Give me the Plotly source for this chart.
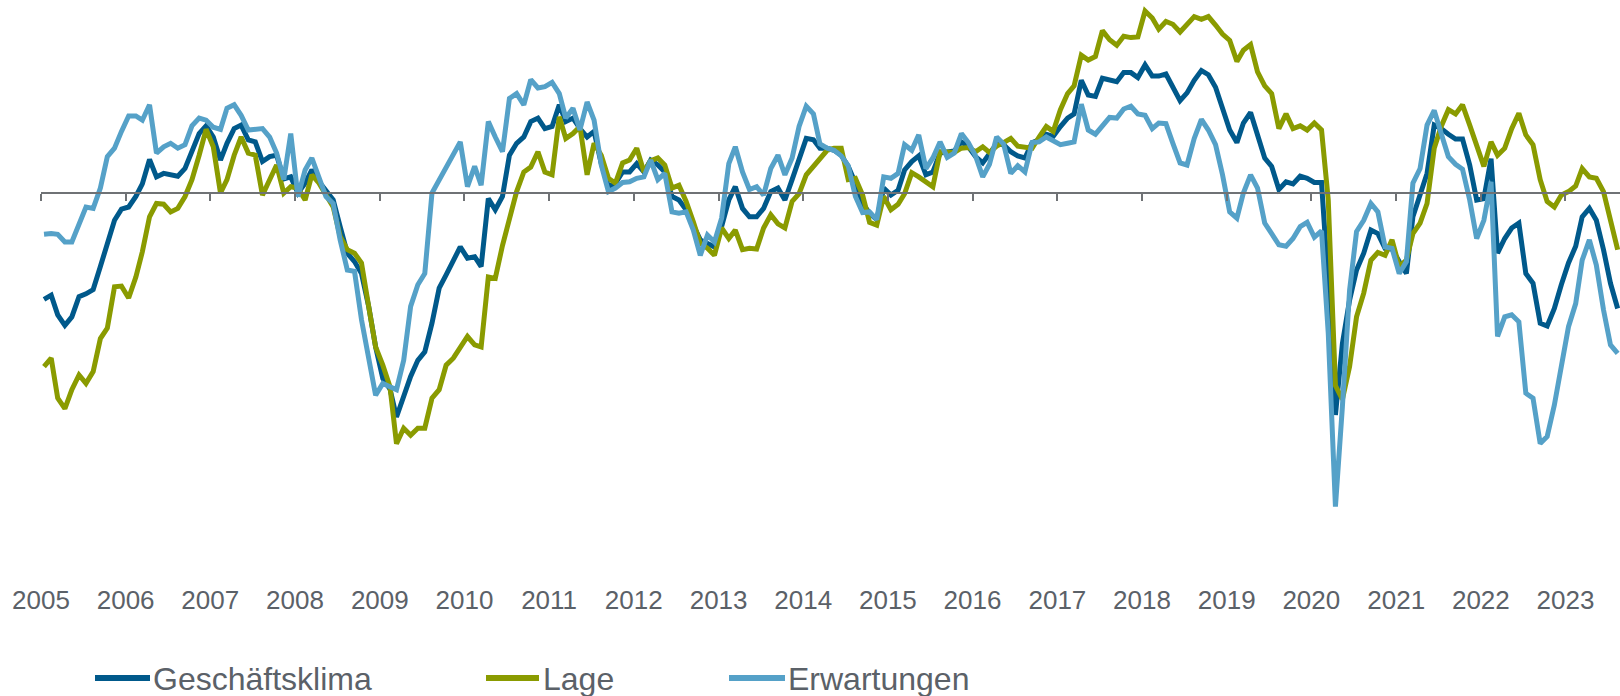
import pandas as pd
import plotly.graph_objects as go

# ---------------- data (monthly balances, Jan 2005 - Aug 2023) ----------------
start_month = "2005-01-01"

geschaeftsklima = [
    -15.2, -14.6, -17.4, -18.9, -17.7, -14.8, -14.4, -13.8, -10.5, -7.4, -3.9, -2.3,   # 2005
    -2.0, -0.5, 1.3, 4.8, 2.3, 2.8, 2.6, 2.4, 3.5, 5.9, 8.5, 9.6,                      # 2006
    8.0, 4.7, 7.1, 9.2, 9.7, 7.6, 7.3, 4.5, 5.2, 5.4, 2.0, 2.3,                        # 2007
    0.0, 1.4, 3.3, 1.6, 0.4, -1.0, -4.8, -8.6, -9.8, -11.5, -16.2, -22.0,              # 2008
    -26.5, -28.0, -32.0, -29.0, -26.2, -23.9, -22.7, -18.6, -13.6, -11.7, -9.6, -7.7,  # 2009
    -9.3, -9.1, -10.5, -0.8, -2.4, -0.5, 5.4, 7.1, 8.0, 10.2, 10.7, 9.2,               # 2010
    9.5, 12.6, 10.2, 10.7, 9.2, 8.0, 8.8, 4.2, 0.9, 1.4, 3.0, 3.0,                     # 2011
    4.2, 3.0, 4.7, 4.0, 3.0, -0.5, -1.0, -2.4, -4.6, -6.7, -7.2, -7.7,                 # 2012
    -4.8, -1.0, 0.9, -2.2, -3.4, -3.4, -2.2, 0.2, 0.7, -1.0, 1.9, 4.7,                 # 2013
    7.8, 7.6, 6.4, 6.4, 6.1, 5.4, 3.8, 1.4, -1.5, -2.9, -3.8, 0.7,                     # 2014
    -0.3, 0.4, 3.3, 4.5, 5.3, 2.6, 3.0, 5.7, 5.8, 6.0, 7.3, 6.6,                       # 2015
    5.2, 4.3, 5.6, 7.0, 6.9, 5.9, 5.3, 5.0, 7.2, 7.6, 8.4, 8.1,                        # 2016
    9.5, 10.7, 11.3, 16.1, 14.0, 13.8, 16.4, 16.1, 15.9, 17.2, 17.2, 16.5,             # 2017
    18.3, 16.7, 16.7, 17.0, 15.3, 13.2, 14.3, 16.1, 17.5, 16.9, 15.1, 12.3,            # 2018
    9.0, 7.2, 10.0, 11.5, 8.5, 5.0, 3.8, 0.5, 1.6, 1.3, 2.4, 2.1,                      # 2019
    1.5, 1.5, -12.9, -31.7, -21.5, -15.3, -11.0, -8.6, -5.3, -5.8, -7.9, -8.0,         # 2020
    -9.8, -11.5, -3.4, -0.5, 2.8, 9.7, 9.2, 8.4, 7.7, 7.7, 4.0, -1.0,                  # 2021
    -0.8, 4.9, -8.6, -6.5, -5.0, -4.3, -11.5, -12.9, -18.6, -19.0, -16.5, -13.1,       # 2022
    -10.0, -7.6, -3.4, -2.2, -3.9, -8.1, -12.9, -16.5,                                 # 2023
]

lage = [
    -24.8, -23.6, -29.3, -30.8, -28.1, -26.0, -27.2, -25.5, -20.8, -19.3, -13.4, -13.3,
    -15.0, -12.0, -8.4, -3.4, -1.5, -1.6, -2.7, -2.2, -0.5, 1.9, 5.4, 9.1,
    6.6, 0.0, 1.9, 5.4, 8.0, 5.7, 5.4, -0.3, 1.9, 4.0, 0.0, 0.9,
    0.7, -1.0, 2.6, 1.4, -0.3, -2.0, -6.2, -8.1, -8.6, -10.0, -16.2, -22.0,
    -24.6, -27.7, -35.8, -33.6, -34.6, -33.6, -33.6, -29.3, -28.1, -24.6, -23.6, -22.0,
    -20.5, -21.7, -22.0, -12.0, -12.2, -7.5, -3.6, 0.2, 3.0, 3.7, 5.9, 3.0,
    2.6, 10.9, 7.8, 8.5, 9.5, 2.6, 7.1, 5.4, 2.1, 1.4, 4.3, 4.7,
    6.4, 3.0, 4.6, 5.0, 4.0, 0.7, 1.1, -1.2, -4.1, -7.2, -7.9, -8.9,
    -5.0, -6.5, -5.3, -8.1, -7.9, -8.0, -5.0, -3.1, -4.4, -5.0, -1.2, -0.1,
    2.6, 3.8, 5.0, 6.1, 6.4, 6.4, 1.9, 2.1, -0.3, -4.2, -4.6, -0.5,
    -2.4, -1.6, -0.1, 2.9, 2.3, 1.5, 0.9, 5.9, 5.8, 5.8, 6.4, 6.5,
    5.9, 6.6, 5.8, 6.7, 7.2, 7.8, 6.7, 6.6, 6.4, 8.0, 9.5, 8.8,
    11.9, 14.2, 15.3, 19.7, 19.0, 19.5, 23.2, 21.9, 21.1, 22.4, 22.2, 22.3,
    26.0, 25.0, 23.4, 24.5, 24.1, 23.0, 24.1, 25.2, 24.8, 25.2, 24.0, 22.7,
    21.8, 18.8, 20.4, 21.2, 17.3, 15.3, 14.2, 9.2, 11.3, 9.2, 9.6, 9.0,
    10.0, 9.0, -1.0, -27.5, -29.5, -24.8, -17.7, -14.3, -9.6, -8.5, -8.9, -6.7,
    -10.5, -9.6, -5.8, -4.3, -1.5, 6.4, 9.5, 11.9, 11.3, 12.6, 9.7, 6.9,
    3.8, 7.3, 5.4, 6.4, 9.2, 11.4, 8.3, 6.9, 1.9, -1.2, -2.0, -0.3,
    0.2, 1.0, 3.5, 2.3, 2.1, 0.2, -3.9, -8.1,
]

erwartungen = [
    -5.9, -5.8, -5.9, -7.0, -7.0, -4.3, -2.0, -2.2, 0.7, 5.2, 6.4, 8.8,
    11.0, 11.0, 10.4, 12.6, 5.7, 6.6, 7.1, 6.4, 6.9, 9.6, 10.7, 10.4,
    9.4, 9.1, 12.1, 12.6, 11.1, 9.0, 9.1, 9.2, 8.0, 5.7, 1.9, 8.5,
    -0.5, 3.3, 5.0, 2.1, -0.5, -1.5, -6.7, -11.0, -11.2, -18.1, -23.9, -28.9,
    -27.2, -27.7, -28.1, -23.9, -16.2, -13.1, -11.5, 0.0, 1.9, 3.7, 5.8, 7.3,
    0.9, 3.8, 1.1, 10.2, 8.0, 5.9, 13.5, 14.2, 12.6, 16.2, 15.0, 15.2,
    15.8, 14.2, 10.7, 12.1, 9.0, 13.0, 10.4, 4.0, 0.2, 0.7, 1.5, 1.6,
    2.1, 2.3, 4.7, 1.9, 2.8, -2.7, -2.9, -2.7, -5.3, -8.9, -6.0, -7.0,
    -3.6, 4.2, 6.6, 3.0, 0.5, 0.9, -0.3, 3.5, 5.4, 2.6, 5.0, 9.5,
    12.4, 11.3, 7.0, 6.4, 6.1, 5.3, 3.9, -0.5, -2.8, -2.7, -3.8, 2.3,
    2.1, 2.8, 6.9, 6.1, 8.3, 3.5, 5.0, 7.3, 5.1, 5.7, 8.5, 7.2,
    5.3, 2.3, 4.1, 8.0, 7.0, 2.8, 3.9, 3.0, 7.2, 7.3, 8.0, 7.5,
    6.9, 7.1, 7.3, 12.7, 9.0, 8.4, 9.7, 10.8, 10.7, 12.0, 12.4, 11.3,
    11.1, 9.2, 10.0, 9.9, 7.1, 4.3, 4.0, 7.8, 10.5, 9.0, 6.9, 2.6,
    -2.7, -3.6, 0.0, 2.6, 0.7, -4.3, -5.8, -7.4, -7.6, -6.5, -4.8, -4.2,
    -6.3, -5.4, -20.0, -44.8, -30.5, -13.9, -5.5, -3.9, -1.5, -2.7, -7.7, -7.9,
    -11.5, -9.8, 1.4, 3.5, 9.7, 11.8, 8.5, 5.2, 4.1, 3.4, -1.0, -6.5,
    -3.9, 1.6, -20.5, -17.7, -17.4, -18.4, -28.6, -29.3, -35.8, -34.8, -30.3, -24.8,
    -19.1, -15.8, -9.6, -6.7, -10.3, -16.7, -21.7, -22.9,
]

series_names = ["Geschäftsklima", "Lage", "Erwartungen"]
series_colors = ["#00598b", "#8a9b00", "#55a1c8"]
tick_years = list(range(2005, 2024))

assert len(geschaeftsklima) == len(lage) == len(erwartungen) == 224

months = pd.date_range(start_month, periods=len(geschaeftsklima), freq="MS")
x_dates = months + pd.Timedelta(days=13)  # monthly points plotted mid-month

# ---------------- layout geometry (pixels) ----------------
W, H = 1620, 696
PL, PR, PT, PB = 41, 1620, 0, 560
ZERO_PX = 193
PX_PER_UNIT = 7.0
y_top = (ZERO_PX - PT) / PX_PER_UNIT
y_bot = (ZERO_PX - PB) / PX_PER_UNIT

px_per_year = 84.7
x0 = pd.Timestamp("2005-01-01")
x1 = x0 + pd.Timedelta(days=(PR - PL) / px_per_year * 365.25)

def fx(px):
    return (px - PL) / (PR - PL)

def fy(py):
    return (PB - py) / (PB - PT)

TEXT = "#5b6168"
AXIS = "#6f7275"
FONT = "Liberation Sans, Arial, sans-serif"

fig = go.Figure()
for name, vals, col in zip(series_names, [geschaeftsklima, lage, erwartungen], series_colors):
    fig.add_trace(go.Scatter(
        x=x_dates, y=vals, name=name, mode="lines",
        line=dict(color=col, width=5), showlegend=False,
    ))

fig.update_layout(
    width=W, height=H,
    margin=dict(l=PL, r=W - PR, t=PT, b=H - PB, pad=0),
    paper_bgcolor="white", plot_bgcolor="white",
    font=dict(family=FONT, color=TEXT),
    xaxis=dict(
        type="date", range=[x0, x1],
        anchor="free", position=fy(ZERO_PX),
        showline=True, linecolor=AXIS, linewidth=2,
        ticks="outside", ticklen=7, tickwidth=2, tickcolor=AXIS,
        tickvals=[pd.Timestamp(f"{y}-01-01") for y in tick_years],
        ticktext=[str(y) for y in tick_years],
        tickfont=dict(size=26, color=TEXT, family=FONT),
        ticklabelstandoff=377,
        showgrid=False, zeroline=False,
    ),
    yaxis=dict(range=[y_bot, y_top], visible=False, showgrid=False, zeroline=False),
)

# manual legend (line sample + label)
legend_items = [(95, 150, 151), (486, 539, 541), (729, 785, 786)]
LEG_Y = 678
for (lx0, lx1, tx), name, col in zip(legend_items, series_names, series_colors):
    fig.add_shape(type="line", xref="paper", yref="paper",
                  x0=fx(lx0), x1=fx(lx1), y0=fy(LEG_Y), y1=fy(LEG_Y),
                  line=dict(color=col, width=6))
    fig.add_annotation(xref="paper", yref="paper", x=fx(tx), y=fy(LEG_Y + 1),
                       text=name, showarrow=False, xanchor="left", yanchor="middle",
                       font=dict(size=32, color=TEXT, family=FONT))

fig.write_html(
    "out.html",
    config={"displayModeBar": False},
    post_script="document.body.style.margin='0px';document.body.style.overflow='hidden';",
)
